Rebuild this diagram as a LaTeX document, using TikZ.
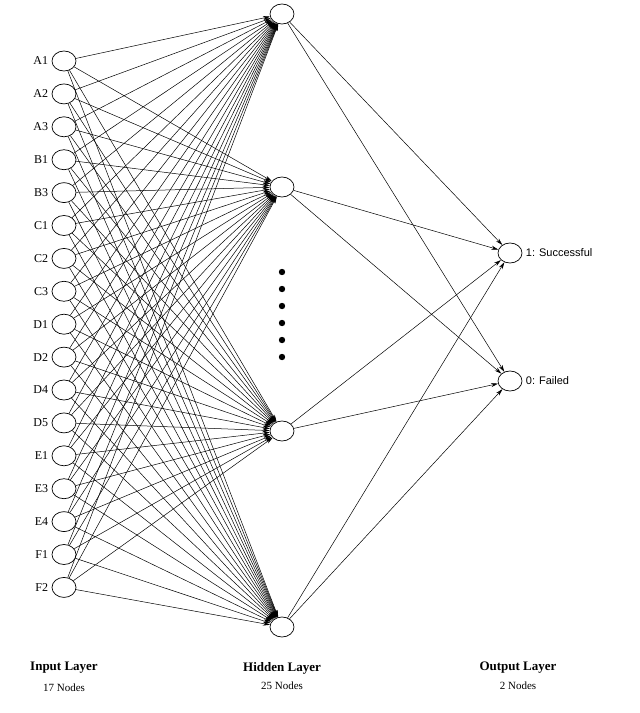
\documentclass[tikz,border=0pt]{standalone}
\usepackage{fontspec}
\setmainfont{Liberation Serif}
\newfontfamily\sans{Liberation Sans}
\usetikzlibrary{arrows.meta,shapes.geometric}
\begin{document}
\begin{tikzpicture}[x=1pt,y=-1pt,
  neuron/.style={draw,ellipse,minimum width=24pt,minimum height=20pt,inner sep=0pt,line width=0.7pt},
  conn/.style={line width=0.5pt,-{Stealth[length=7pt,width=4pt]}},
  lbl/.style={font=\fontsize{12}{12}\selectfont},
  title/.style={font=\bfseries\fontsize{13}{13}\selectfont},
  sub/.style={font=\fontsize{11}{11}\selectfont}]
\useasboundingbox (0,0) rectangle (640,713);
\foreach \n [count=\i] in {A1,A2,A3,B1,B3,C1,C2,C3,D1,D2,D4,D5,E1,E3,E4,F1,F2}{
  \node[neuron] (in\i) at (64,{61+(\i-1)*32.9}) {};
  \node[lbl,anchor=east] (l\i) at (in\i.west) {\n};
}
\node[neuron] (h1) at (282,14) {};
\node[neuron] (h2) at (282,187) {};
\node[neuron] (h3) at (282,431) {};
\node[neuron] (h4) at (282,627) {};
\node[neuron] (o1) at (510,253) {};
\node[neuron] (o2) at (510,381) {};
\node[lbl,anchor=west,font=\sans\fontsize{11}{11}\selectfont] (lo1) at (o1.east) {1: Successful};
\node[lbl,anchor=west,font=\sans\fontsize{11}{11}\selectfont] (lo2) at (o2.east) {0: Failed};
\foreach \k in {0,...,5}{\fill (282,{272+\k*17}) circle (3.2pt);}
\foreach \i in {1,...,17}{\foreach \h in {1,...,4}{\draw[conn] (in\i) -- (h\h);}}
\foreach \h in {1,...,4}{\foreach \o in {1,2}{\draw[conn] (h\h) -- (o\o);}}
\node[title] (t1) at (64,668) {Input Layer};
\node[sub] (s1) at (64,688) {17 Nodes};
\node[title] (t2) at (282,668) {Hidden Layer};
\node[sub] (s2) at (282,686) {25 Nodes};
\node[title] (t3) at (518,668) {Output Layer};
\node[sub] (s3) at (518,686) {2 Nodes};
\end{tikzpicture}
\end{document}
